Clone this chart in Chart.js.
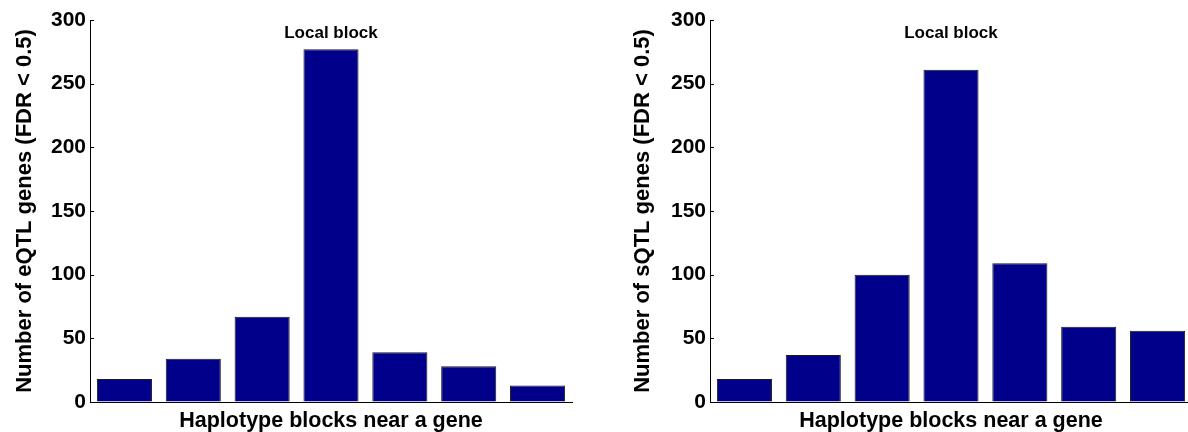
<!DOCTYPE html>
<html>
<head>
<meta charset="utf-8">
<title>Haplotype blocks near a gene</title>
<script src="https://cdn.jsdelivr.net/npm/chart.js@4/dist/chart.umd.min.js"></script>
<style>
  html, body { margin: 0; padding: 0; background: #ffffff; }
  body { width: 1188px; height: 432px; overflow: hidden; position: relative; }
  .panel { position: absolute; top: 0; width: 600px; height: 432px; }
  #panelE { left: 0; }
  #panelS { left: 620px; }
</style>
</head>
<body>
<div class="panel" id="panelE"><canvas id="chartE"></canvas></div>
<div class="panel" id="panelS"><canvas id="chartS"></canvas></div>
<script>
// Block positions relative to the gene (the centre one is the local block)
const blocks = ['-3', '-2', '-1', '0', '+1', '+2', '+3'];
const localIndex = 3;
const localLabel = 'Local block';
const localLabelValue = 289.5;

// Gene counts per block
const eqtlCounts = [18, 34, 67, 277, 39, 28, 13];
const sqtlCounts = [18, 37, 100, 261, 109, 59, 56];

// Axis settings
const yMin = 0;
const yMax = 300;
const yStep = 50;
const xTitle = 'Haplotype blocks near a gene';
const eqtlYTitle = 'Number of eQTL genes (FDR < 0.5)';
const sqtlYTitle = 'Number of sQTL genes (FDR < 0.5)';

const FONT = '"Liberation Sans", Arial, Helvetica, sans-serif';
const BAR_FILL = '#00008b';
const BAR_EDGE = '#1a1a1a';
const INK = '#000000';

// Short tick marks pointing into the plot area, plus the "Local block" note
const innerTicks = {
  id: 'innerTicks',
  afterDatasetsDraw(chart) {
    const { ctx, chartArea, scales } = chart;
    const y = scales.y;
    ctx.save();
    ctx.strokeStyle = INK;
    ctx.lineWidth = 1;
    y.ticks.forEach(t => {
      const py = Math.round(y.getPixelForValue(t.value)) + 0.5;
      ctx.beginPath();
      ctx.moveTo(chartArea.left, py);
      ctx.lineTo(chartArea.left + 4, py);
      ctx.stroke();
    });
    const x = scales.x;
    ctx.fillStyle = INK;
    ctx.font = 'bold 17px ' + FONT;
    ctx.textAlign = 'center';
    ctx.textBaseline = 'middle';
    ctx.fillText(localLabel, x.getPixelForValue(localIndex), y.getPixelForValue(localLabelValue));
    ctx.restore();
  }
};

function makeChart(canvasId, counts, yTitle, yTitlePad) {
  return new Chart(document.getElementById(canvasId), {
    type: 'bar',
    data: {
      labels: blocks,
      datasets: [{
        data: counts,
        backgroundColor: BAR_FILL,
        borderColor: BAR_EDGE,
        borderWidth: 1,
        borderSkipped: 'bottom',
        categoryPercentage: 0.8,
        barPercentage: 1.0
      }]
    },
    options: {
      responsive: true,
      maintainAspectRatio: false,
      animation: false,
      events: [],
      layout: { padding: { top: 20, right: 28, bottom: 0, left: 0 } },
      plugins: {
        legend: { display: false },
        tooltip: { enabled: false },
        title: { display: false }
      },
      scales: {
        x: {
          type: 'category',
          offset: true,
          grid: { display: false, drawTicks: false },
          border: { display: true, color: INK, width: 1 },
          ticks: { display: false },
          title: {
            display: true,
            text: xTitle,
            color: INK,
            font: { family: FONT, size: 21.5, weight: 'bold', lineHeight: 1.0 },
            padding: { top: 0, bottom: 0 }
          },
          afterFit(scale) { scale.height = 30; }
        },
        y: {
          min: yMin,
          max: yMax,
          grid: { display: true, drawOnChartArea: false, drawTicks: false },
          border: { display: true, color: INK, width: 1 },
          ticks: {
            stepSize: yStep,
            padding: 4,
            color: INK,
            font: { family: FONT, size: 21, weight: 'bold' }
          },
          title: {
            display: true,
            text: yTitle,
            color: INK,
            font: { family: FONT, size: 22, weight: 'bold', lineHeight: 1.2 },
            padding: { top: yTitlePad, bottom: 0 }
          },
          afterFit(scale) { scale.width = 90; }
        }
      }
    },
    plugins: [innerTicks]
  });
}

makeChart('chartE', eqtlCounts, eqtlYTitle, 12);
makeChart('chartS', sqtlCounts, sqtlYTitle, 10);
</script>
</body>
</html>
